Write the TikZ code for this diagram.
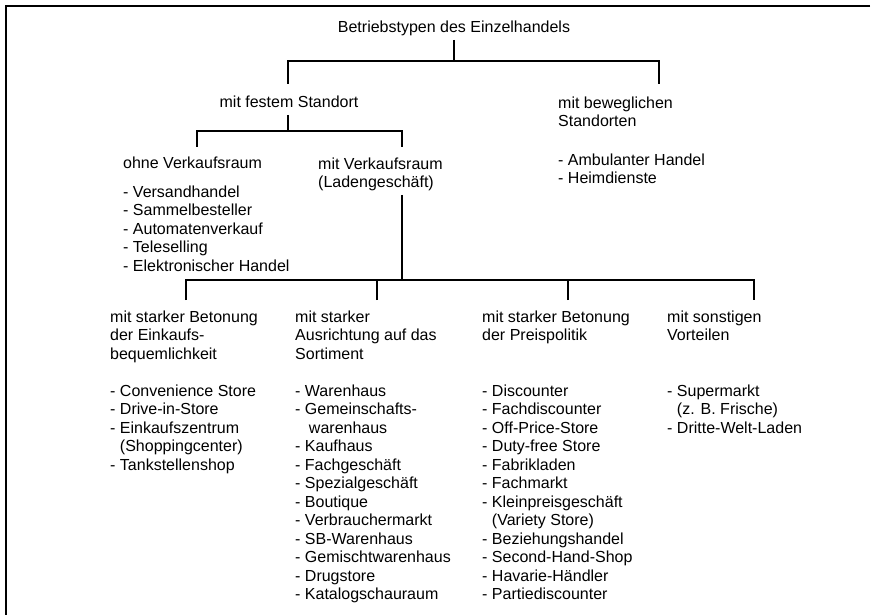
\documentclass[tikz,border=0pt]{standalone}
\usepackage{fontspec}
\setmainfont{Liberation Sans}
\newcommand\contind{\phantom{- }}
\tikzset{
  lbl/.style={inner sep=0pt, font=\fontsize{16bp}{18.5bp}\selectfont, text=black},
  blk/.style={lbl, align=left, anchor=north west},
  tree/.style={line width=1.2bp, black},
  frameline/.style={line width=2bp, black}
}
\begin{document}
\begin{tikzpicture}[x=1bp,y=-1bp]
\useasboundingbox (0,0) rectangle (877,615);
% open frame: top and left edge
\draw[frameline] (870,6) -- (6,6) -- (6,616);

% first and second level
\node[lbl,anchor=base] (root) at (454,32.5) {Betriebstypen des Einzelhandels};
\node[lbl,anchor=base] (fest) at (289,107.5) {mit festem Standort};
\node[blk] (bew) at (558,96.5) {mit beweglichen\\Standorten};
\node[blk] (bewlist) at (558,153.5) {- Ambulanter Handel\\- Heimdienste};

% third level
\node[lbl,anchor=base west] (ohne) at (123,168.5) {ohne Verkaufsraum};
\node[blk] (ohnelist) at (123,185.5) {- Versandhandel\\- Sammelbesteller\\- Automatenverkauf\\- Teleselling\\- Elektronischer Handel};
\node[blk] (mitvk) at (318,157.5) {mit Verkaufsraum\\(Ladengesch\"aft)};

% shop types
\node[blk] (bequem) at (110,310.5) {mit starker Betonung\\der Einkaufs-\\bequemlichkeit\\[18.5bp]
- Convenience Store\\- Drive-in-Store\\- Einkaufszentrum\\\contind(Shoppingcenter)\\- Tankstellenshop};
\node[blk] (sortiment) at (295,310.5) {mit starker\\Ausrichtung auf das\\Sortiment\\[18.5bp]
- Warenhaus\\- Gemeinschafts-\\\contind\hspace{4bp}warenhaus\\- Kaufhaus\\- Fachgesch\"aft\\- Spezialgesch\"aft\\- Boutique\\- Verbrauchermarkt\\- SB-Warenhaus\\- Gemischtwarenhaus\\- Drugstore\\- Katalogschauraum};
\node[blk] (preis) at (482,310.5) {mit starker Betonung\\der Preispolitik\\[37bp]
- Discounter\\- Fachdiscounter\\- Off-Price-Store\\- Duty-free Store\\- Fabrikladen\\- Fachmarkt\\- Kleinpreisgesch\"aft\\\contind(Variety Store)\\- Beziehungshandel\\- Second-Hand-Shop\\- Havarie-H\"andler\\- Partiediscounter};
\node[blk] (sonst) at (667,310.5) {mit sonstigen\\Vorteilen\\[37bp]
- Supermarkt\\\contind(z. B. Frische)\\- Dritte-Welt-Laden};

% connector points
\coordinate (rootstem) at (454,40);
\coordinate (j0) at (454,61);
\coordinate (festin) at (288,84);
\coordinate (bewin) at (659,84);
\coordinate (feststem) at (288,115);
\coordinate (j1) at (288,131);
\coordinate (ohnein) at (197,147);
\coordinate (mitvkin) at (402,147);
\coordinate (mitvkstem) at (402,195);
\coordinate (j2) at (402,280);
\coordinate (bequemin) at (186,300);
\coordinate (sortimentin) at (377,300);
\coordinate (preisin) at (568,300);
\coordinate (sonstin) at (754,300);

% tree connectors
\draw[tree] (rootstem) -- (j0);
\draw[tree] (festin) |- (j0) -| (bewin);
\draw[tree] (feststem) -- (j1);
\draw[tree] (ohnein) |- (j1) -| (mitvkin);
\draw[tree] (mitvkstem) -- (j2);
\draw[tree] (bequemin) |- (j2) -| (sonstin);
\draw[tree] (sortimentin) -- (sortimentin |- j2);
\draw[tree] (preisin) -- (preisin |- j2);
\end{tikzpicture}
\end{document}
